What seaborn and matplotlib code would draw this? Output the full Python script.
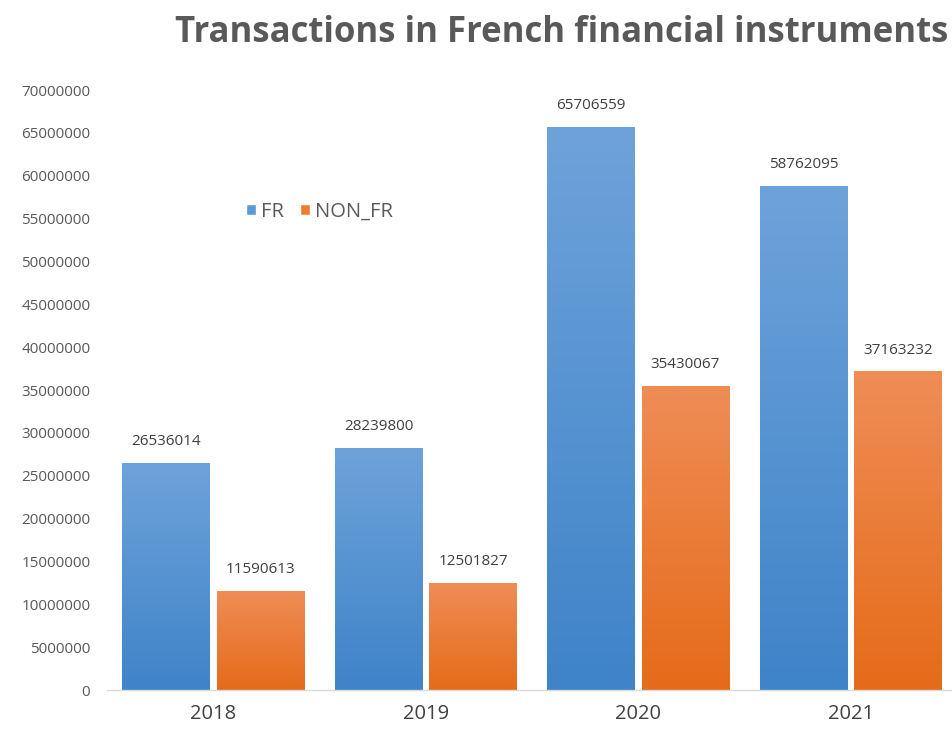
import numpy as np
import pandas as pd
import matplotlib
matplotlib.use("Agg")
import matplotlib.pyplot as plt
import seaborn as sns
from matplotlib.colors import LinearSegmentedColormap
from matplotlib.patches import Patch

years = ["2018", "2019", "2020", "2021"]
fr_values = [26536014, 28239800, 65706559, 58762095]
non_fr_values = [11590613, 12501827, 35430067, 37163232]
series_names = ["FR", "NON_FR"]
yticks = list(range(0, 70000001, 5000000))

df = pd.DataFrame({
    "year": years * 2,
    "value": fr_values + non_fr_values,
    "series": [series_names[0]] * 4 + [series_names[1]] * 4,
})

sns.set_theme(style="white")
plt.rcParams['font.family'] = ['Open Sans', 'DejaVu Sans']

W, H = 952, 731
fig = plt.figure(figsize=(W / 100, H / 100), dpi=100)
ax_left, ax_right = 107, 957
ax_bot, ax_top = 690, 90
ax = fig.add_axes([ax_left / W, (H - ax_bot) / H, (ax_right - ax_left) / W, (ax_bot - ax_top) / H])

palette = {"FR": "#5b9bd5", "NON_FR": "#ed7d31"}
sns.barplot(data=df, x="year", y="value", hue="series", palette=palette,
            width=0.89, gap=0.075, ax=ax, legend=False, saturation=1)

ax.set_ylim(0, 70000000)
ax.set_xlim(-0.5, 3.5)
ax.set_yticks(yticks)
ax.set_yticklabels([str(v) for v in yticks], fontsize=11, color="#595959")
ax.tick_params(axis="x", labelsize=14.5, colors="#404040", length=0, pad=10)
ax.tick_params(axis="y", length=0, pad=12)
ax.set_xlabel("")
ax.set_ylabel("")
for s in ["top", "right", "left"]:
    ax.spines[s].set_visible(False)
ax.spines["bottom"].set_color("#d9d9d9")
ax.spines["bottom"].set_linewidth(1)

grads = {
    "FR": LinearSegmentedColormap.from_list("b", ["#3f83c8", "#6ea3da"]),
    "NON_FR": LinearSegmentedColormap.from_list("o", ["#e56b19", "#ef8d57"]),
}
grad = np.linspace(0, 1, 256).reshape(-1, 1)
for container, name in zip(ax.containers, series_names):
    for bar in container:
        x0, y0 = bar.get_x(), bar.get_y()
        w, h = bar.get_width(), bar.get_height()
        im = ax.imshow(grad, cmap=grads[name], origin="lower", aspect="auto",
                       extent=[x0, x0 + w, y0, y0 + h], zorder=bar.get_zorder() + 0.1)
        im.set_clip_path(bar)
        bar.set_edgecolor("none")
    ax.bar_label(container, labels=[str(int(v.get_height())) for v in container],
                 padding=10, fontsize=11, color="#404040")
ax.set_xlim(-0.5, 3.5)
ax.set_ylim(0, 70000000)

handles = [Patch(facecolor=palette[n], label=n) for n in series_names]
ax.legend(handles=handles, loc="center left", bbox_to_anchor=(0.152, 0.797), ncol=2,
          frameon=False, fontsize=14.5, handlelength=0.5, handleheight=0.5,
          handletextpad=0.25, columnspacing=0.8, borderpad=0, labelcolor="#595959")

fig.text(175 / W, 1 - 33 / H, "Transactions in French financial instruments",
         ha="left", va="center", fontsize=25, fontweight="bold", color="#595959")

fig.savefig("out.png", dpi=100)
